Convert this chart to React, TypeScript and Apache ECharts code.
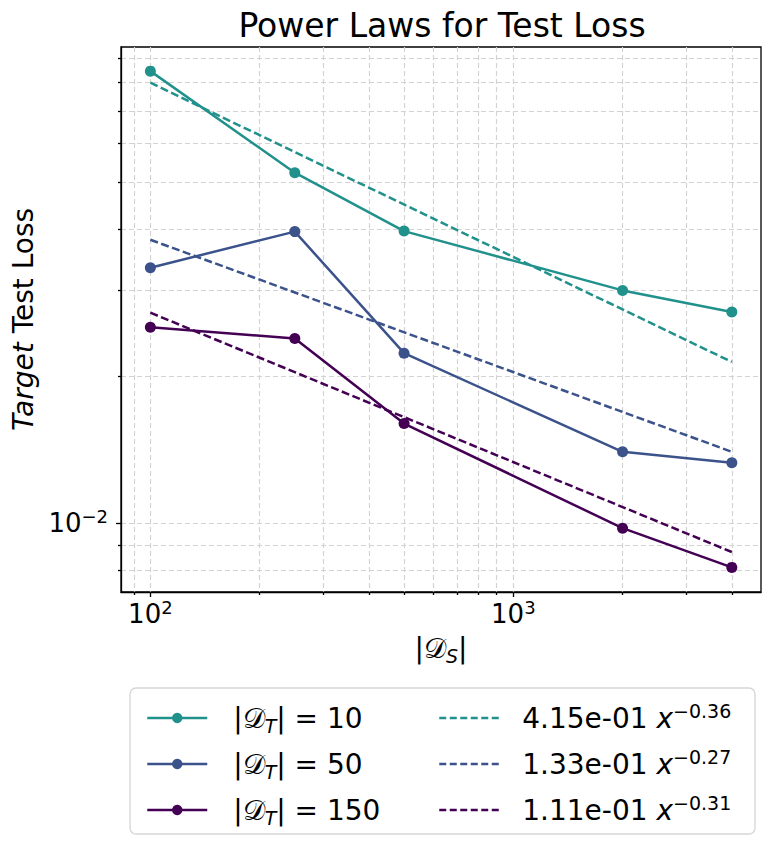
import React, { useEffect, useRef } from "react";
import * as echarts from "echarts";

// ---- data ----
const xValues = [100, 250, 500, 2000, 4000];
const loss10 = [0.0845, 0.0523, 0.0397, 0.03, 0.0271];
const loss50 = [0.0334, 0.0396, 0.0223, 0.014, 0.0133];
const loss150 = [0.0252, 0.0239, 0.016, 0.00976, 0.00811];

const fitX = [100, 4000];
const fit10 = [0.08, 0.0214];
const fit50 = [0.0381, 0.014];
const fit150 = [0.027, 0.00872];

const xMajorTicks = [100, 1000];
const xMinorTicks = [90, 200, 300, 400, 500, 600, 700, 800, 900, 2000, 3000, 4000];
const yMajorTicks = [0.01];
const yMinorTicks = [0.008, 0.009, 0.02, 0.03, 0.04, 0.05, 0.06, 0.07, 0.08, 0.09];

const seriesNames = ["s10", "s50", "s150"];
const fitNames = ["f10", "f50", "f150"];
const seriesLabels = [
  "|{cal|𝒟}{sub|T}| = 10",
  "|{cal|𝒟}{sub|T}| = 50",
  "|{cal|𝒟}{sub|T}| = 150",
];
const fitLabels = [
  "4.15e-01 {it|x}{sup|−0.36}",
  "1.33e-01 {it|x}{sup|−0.27}",
  "1.11e-01 {it|x}{sup|−0.31}",
];
const colors = ["#21918c", "#3b528b", "#440154"];

const FONT = "DejaVu Sans";

const pow10Label = (v: number) => {
  const e = Math.round(Math.log10(v));
  const s = e < 0 ? "−" + String(-e) : String(e);
  return `{b|10}{sup|${s}}`;
};

const tickRich = {
  b: { fontSize: 26, fontFamily: FONT, color: "#000", lineHeight: 32 },
  sup: { fontSize: 18, fontFamily: FONT, color: "#000", lineHeight: 18, verticalAlign: "top" },
};

const gridLine = { show: true, lineStyle: { color: "#d3d3d3", width: 1.2, type: [5, 3] } };
const axisBlack = { color: "#000", width: 1.3 };

export default function App() {
  const ref = useRef<HTMLDivElement>(null);
  useEffect(() => {
    if (!ref.current) return;
    const chart = echarts.init(ref.current, null, { renderer: "svg" });
    const xMin = 83.0, xMax = 4813;
    const yMin = 0.00722, yMax = 0.0947;
    const labelMap: Record<string, string> = {};
    seriesNames.forEach((n, i) => (labelMap[n] = seriesLabels[i]));
    fitNames.forEach((n, i) => (labelMap[n] = fitLabels[i]));
    const lossSets = [loss10, loss50, loss150];
    const fitSets = [fit10, fit50, fit150];
    const legendRich = {
      cal: { fontSize: 28, fontFamily: FONT, color: "#000", lineHeight: 34 },
      sub: { fontSize: 19, fontFamily: FONT, fontStyle: "italic", color: "#000", lineHeight: 20, verticalAlign: "bottom" },
      it: { fontSize: 28, fontFamily: FONT, fontStyle: "italic", color: "#000", lineHeight: 34 },
      sup: { fontSize: 19, fontFamily: FONT, color: "#000", lineHeight: 18, verticalAlign: "top" },
    };
    const legendText = {
      fontFamily: FONT,
      fontSize: 28,
      color: "#000",
      lineHeight: 34,
      rich: legendRich,
    };
    chart.setOption({
      animation: false,
      backgroundColor: "#fff",
      title: {
        text: "Power Laws for Test Loss",
        left: 437,
        top: 4,
        textAlign: "center",
        textStyle: { fontFamily: FONT, fontSize: 33, fontWeight: "normal", color: "#000" },
      },
      grid: {
        left: 121,
        right: 12,
        top: 47,
        bottom: 255,
        show: true,
        borderColor: "#000",
        borderWidth: 1.3,
        backgroundColor: "transparent",
      },
      graphic: [
        {
          type: "rect",
          shape: { x: 130, y: 688, width: 625, height: 146, r: 6 },
          style: { fill: "#fff", stroke: "#d6d6d6", lineWidth: 1.3 },
          z: 0,
        },
      ],
      legend: [
        {
          data: seriesNames,
          orient: "vertical",
          left: 141,
          top: 696,
          itemWidth: 60,
          itemHeight: 13,
          itemGap: 12,
          selectedMode: false,
          formatter: (n: string) => labelMap[n],
          lineStyle: { width: 2.5 },
          textStyle: { ...legendText, padding: [0, 0, 0, 21] },
        },
        {
          data: fitNames,
          orient: "vertical",
          left: 433,
          top: 696,
          itemWidth: 60,
          itemHeight: 13,
          itemGap: 12,
          selectedMode: false,
          formatter: (n: string) => labelMap[n],
          itemStyle: { opacity: 0 },
          lineStyle: { width: 2.5, type: [7, 3.5] },
          textStyle: { ...legendText, padding: [0, 0, 0, 18] },
        },
      ],
      xAxis: [
        {
          type: "log",
          logBase: 10,
          min: xMin,
          max: xMax,
          position: "bottom",
          axisLine: { show: true, onZero: false, lineStyle: axisBlack },
          axisTick: { show: true, customValues: xMajorTicks, length: 5, lineStyle: axisBlack },
          axisLabel: { customValues: xMajorTicks, formatter: pow10Label, margin: 6, rich: tickRich },
          splitLine: gridLine,
          name: "|{cal|𝒟}{sub|S}|",
          nameLocation: "middle",
          nameGap: 37,
          nameTextStyle: {
            fontFamily: FONT,
            fontSize: 28,
            color: "#000",
            lineHeight: 34,
            rich: {
              cal: { fontSize: 28, fontFamily: FONT, color: "#000", lineHeight: 34 },
              sub: { fontSize: 19, fontFamily: FONT, fontStyle: "italic", color: "#000", lineHeight: 19, verticalAlign: "bottom" },
            },
          },
        },
        {
          type: "log",
          logBase: 10,
          min: xMin,
          max: xMax,
          position: "bottom",
          axisLine: { show: false, onZero: false },
          axisTick: { show: true, customValues: xMinorTicks, length: 3, lineStyle: axisBlack },
          axisLabel: { show: false },
          splitLine: gridLine,
        },
      ],
      yAxis: [
        {
          type: "log",
          logBase: 10,
          min: yMin,
          max: yMax,
          position: "left",
          axisLine: { show: true, onZero: false, lineStyle: axisBlack },
          axisTick: { show: true, customValues: yMajorTicks, length: 5, lineStyle: axisBlack },
          axisLabel: { customValues: yMajorTicks, formatter: pow10Label, margin: 13, rich: tickRich },
          splitLine: gridLine,
          name: "{it|Target} Test Loss",
          nameLocation: "middle",
          nameRotate: 90,
          nameGap: 82,
          nameTextStyle: {
            fontFamily: FONT,
            fontSize: 28,
            color: "#000",
            rich: { it: { fontFamily: FONT, fontSize: 28, fontStyle: "italic", color: "#000" } },
          },
        },
        {
          type: "log",
          logBase: 10,
          min: yMin,
          max: yMax,
          position: "left",
          axisLine: { show: false, onZero: false },
          axisTick: { show: true, customValues: yMinorTicks, length: 3, lineStyle: axisBlack },
          axisLabel: { show: false },
          splitLine: gridLine,
        },
      ],
      series: [
        ...seriesNames.map((n, i) => ({
          name: n,
          type: "line",
          xAxisIndex: 0,
          yAxisIndex: 0,
          data: xValues.map((x, j) => [x, lossSets[i][j]]),
          symbol: "circle",
          symbolSize: 11,
          itemStyle: { color: colors[i] },
          lineStyle: { color: colors[i], width: 2.5 },
          silent: true,
          z: 3,
        })),
        ...fitNames.map((n, i) => ({
          name: n,
          type: "line",
          xAxisIndex: 0,
          yAxisIndex: 0,
          data: fitX.map((x, j) => [x, fitSets[i][j]]),
          symbol: "none",
          itemStyle: { color: colors[i] },
          lineStyle: { color: colors[i], width: 2.5, type: [8, 3.5] },
          silent: true,
          z: 3,
        })),
      ],
    });
    return () => chart.dispose();
  }, []);
  return (
    <div
      ref={ref}
      style={{ position: "fixed", left: 0, top: 0, width: 773, height: 847, background: "#fff" }}
    />
  );
}
